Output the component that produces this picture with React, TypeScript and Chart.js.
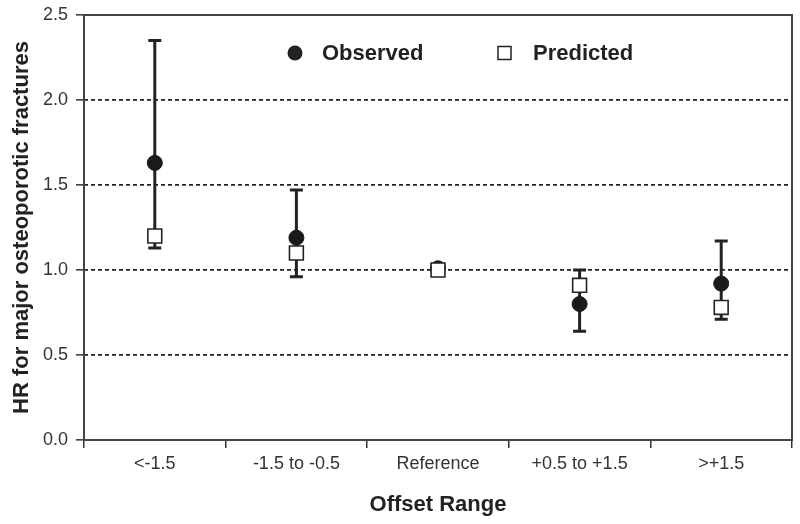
import React, { useEffect, useRef } from "react";
import { Chart, registerables } from "chart.js";
Chart.register(...registerables);

const categories = ["<-1.5", "-1.5 to -0.5", "Reference", "+0.5 to +1.5", ">+1.5"];
const observed = [1.63, 1.19, 1.01, 0.8, 0.92];
const observedLow = [1.13, 0.96, 1.01, 0.64, 0.71];
const observedHigh = [2.35, 1.47, 1.01, 1.0, 1.17];
const predicted = [1.2, 1.1, 1.0, 0.91, 0.78];
const seriesNames = ["Observed", "Predicted"];
const yTitle = "HR for major osteoporotic fractures";
const xTitle = "Offset Range";

const FONT = "'Liberation Sans', Arial, Helvetica, sans-serif";
const DARK = "#222";

const framePlugin = {
  id: "frame",
  beforeDatasetsDraw(chart: any) {
    const { ctx, chartArea: a } = chart;
    ctx.save();
    ctx.strokeStyle = "#444";
    ctx.lineWidth = 2;
    ctx.strokeRect(a.left, a.top, a.right - a.left, a.bottom - a.top);
    ctx.restore();
  },
};

const errorBarPlugin = {
  id: "errorBars",
  beforeDatasetsDraw(chart: any) {
    const meta = chart.getDatasetMeta(0);
    const ys = chart.scales.y;
    const ctx = chart.ctx;
    ctx.save();
    ctx.strokeStyle = DARK;
    ctx.lineWidth = 3;
    meta.data.forEach((pt: any, i: number) => {
      const lo = observedLow[i];
      const hi = observedHigh[i];
      if (hi - lo < 0.001) return;
      const x = pt.x;
      const yl = ys.getPixelForValue(lo);
      const yh = ys.getPixelForValue(hi);
      ctx.beginPath();
      ctx.moveTo(x, yl);
      ctx.lineTo(x, yh);
      ctx.moveTo(x - 6.5, yl);
      ctx.lineTo(x + 6.5, yl);
      ctx.moveTo(x - 6.5, yh);
      ctx.lineTo(x + 6.5, yh);
      ctx.stroke();
    });
    ctx.restore();
  },
};

const legendPlugin = {
  id: "insideLegend",
  afterDraw(chart: any) {
    const { ctx, chartArea: a } = chart;
    const cy = a.top + 38;
    ctx.save();
    ctx.font = `bold 22px ${FONT}`;
    ctx.textBaseline = "middle";
    ctx.fillStyle = DARK;
    ctx.beginPath();
    ctx.arc(a.left + 211, cy, 7.5, 0, Math.PI * 2);
    ctx.fill();
    ctx.fillText(seriesNames[0], a.left + 238, cy + 1);
    ctx.fillStyle = "#fff";
    ctx.strokeStyle = DARK;
    ctx.lineWidth = 1.5;
    ctx.fillRect(a.left + 414, cy - 6.5, 13, 13);
    ctx.strokeRect(a.left + 414, cy - 6.5, 13, 13);
    ctx.fillStyle = DARK;
    ctx.fillText(seriesNames[1], a.left + 449, cy + 1);
    ctx.restore();
  },
};

export default function App() {
  const ref = useRef<HTMLCanvasElement | null>(null);
  useEffect(() => {
    if (!ref.current) return;
    Chart.defaults.font.family = FONT;
    const chart = new Chart(ref.current, {
      type: "line",
      data: {
        labels: categories,
        datasets: [
          {
            label: seriesNames[0],
            data: observed,
            showLine: false,
            pointStyle: "circle",
            pointRadius: 7.5,
            pointHoverRadius: 7.5,
            pointBackgroundColor: "#1a1a1a",
            pointBorderColor: "#1a1a1a",
            pointBorderWidth: 1,
            order: 1,
          },
          {
            label: seriesNames[1],
            data: predicted,
            showLine: false,
            pointStyle: "rect",
            pointRadius: 9.8,
            pointHoverRadius: 9.8,
            pointBackgroundColor: "#fff",
            pointBorderColor: DARK,
            pointBorderWidth: 1.6,
            order: 0,
          },
        ],
      },
      options: {
        responsive: false,
        animation: false,
        layout: { autoPadding: false, padding: { left: 0, top: 15, right: 8, bottom: 0 } },
        plugins: { legend: { display: false }, tooltip: { enabled: false } },
        scales: {
          x: {
            type: "category",
            offset: true,
            grid: {
              display: true,
              offset: true,
              drawOnChartArea: false,
              drawTicks: true,
              tickLength: 8,
              color: "#333",
              lineWidth: 1.5,
              tickBorderDash: [],
            },
            border: { display: false },
            ticks: { color: "#333", font: { size: 18 }, padding: 5, maxRotation: 0 },
            title: {
              display: true,
              text: xTitle,
              color: DARK,
              font: { size: 22, weight: "bold" },
              padding: { top: 0, bottom: 6 },
            },
            afterFit: (s: any) => {
              s.height = 84;
              s.paddingLeft = 0;
              s.paddingRight = 0;
            },
          },
          y: {
            min: 0,
            max: 2.5,
            ticks: {
              stepSize: 0.5,
              color: "#333",
              font: { size: 18 },
              padding: 8,
              callback: (v: any) => Number(v).toFixed(1),
            },
            grid: {
              color: DARK,
              lineWidth: 1.7,
              tickLength: 8,
              tickColor: "#333",
              tickWidth: 1.5,
              tickBorderDash: [],
            },
            border: { display: false, dash: [4, 3] },
            title: {
              display: true,
              text: yTitle,
              color: DARK,
              font: { size: 22, weight: "bold" },
              padding: { top: 9, bottom: 0 },
            },
            afterFit: (s: any) => {
              s.width = 84;
              s.paddingTop = 0;
              s.paddingBottom = 0;
            },
          },
        },
      },
      plugins: [framePlugin, errorBarPlugin, legendPlugin],
    });
    return () => chart.destroy();
  }, []);
  return (
    <div style={{ position: "absolute", left: 0, top: 0, width: 800, height: 524, background: "#fff" }}>
      <canvas ref={ref} width={800} height={524} style={{ display: "block" }} />
    </div>
  );
}
